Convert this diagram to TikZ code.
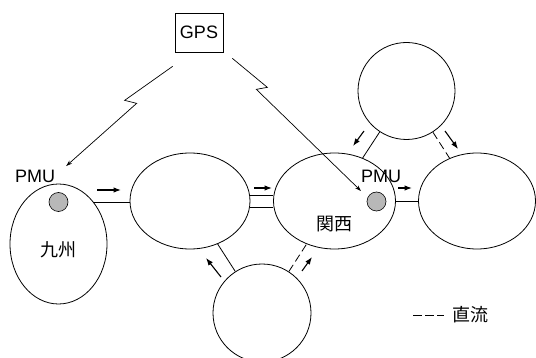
\documentclass[tikz,border=0pt]{standalone}
\usepackage{fontspec}
\setmainfont{Liberation Sans}
\newfontfamily\jp{Noto Sans CJK JP}
\usetikzlibrary{shapes.geometric,arrows.meta}
\tikzset{
  area/.style={draw,ellipse,inner sep=0pt,line width=0.8pt},
  pmudot/.style={draw,circle,fill=black!28,minimum size=19pt,inner sep=0pt,line width=0.6pt},
  lbl/.style={inner sep=0pt,font=\fontsize{18}{21}\selectfont},
  tie/.style={line width=0.8pt},
  dc/.style={tie,dash pattern=on 8pt off 4pt},
  flow/.style={line width=1.1pt,-{Latex[length=7.5pt,width=5.5pt]}},
  gpslink/.style={line width=0.7pt,-{Stealth[length=6pt,width=4pt]}}
}
\begin{document}
\begin{tikzpicture}[x=1pt,y=-1pt]
\useasboundingbox (0,0) rectangle (536,358);
% areas
\node[area,minimum width=97pt,minimum height=120pt] (kyushu) at (58.5,244) {};
\node[area,minimum width=120pt,minimum height=96pt] (chugoku) at (190,201) {};
\node[area,minimum width=122pt,minimum height=96pt] (kansai) at (334.5,201) {};
\node[area,minimum width=117pt,minimum height=96pt] (chubu) at (477,201) {};
\node[area,minimum width=97pt,minimum height=97pt] (hokuriku) at (406.5,91) {};
\node[area,minimum width=98pt,minimum height=98pt] (shikoku) at (262,313) {};
\node[lbl] at (58.5,250) {\jp 九州};
\node[lbl] at (334,224.5) {\jp 関西};
% PMU
\node[pmudot] (dotA) at (58.5,202) {};
\node[pmudot] (dotB) at (376.5,201.5) {};
\node[lbl] (pmuA) at (35,176.5) {PMU};
\node[lbl] (pmuB) at (381,176.5) {PMU};
% GPS
\node[draw,lbl,minimum width=48pt,minimum height=39pt,line width=0.7pt] (gps) at (199,32.5) {GPS};
\draw[gpslink] ([shift={(-2,14)}]gps.south west) -- ++(-48,34) -- ++(12,3)
  -- ([shift={(11,-4)}]pmuA.north east);
\draw[gpslink] ([shift={(9,6)}]gps.south east) -- ++(35,29) -- ++(-11,2)
  -- ([shift={(-15.5,-10.5)}]dotB.center);
% ties
\draw[tie] (kyushu.50) -- (kyushu.50 -| chugoku.west);
\draw[tie] ([yshift=6pt]chugoku.east) -- ([yshift=6pt]kansai.west);
\draw[tie] ([yshift=-6pt]chugoku.east) -- ([yshift=-6pt]kansai.west);
\draw[tie] (kansai.east) -- (chubu.west);
\draw[tie] (hokuriku) -- (kansai);
\draw[dc] (hokuriku) -- (chubu);
\draw[tie] (shikoku) -- (chugoku);
\draw[dc] (shikoku) -- (kansai);
% power flow
\foreach \a/\b in {{97,190}/{121,190},{254,188}/{272,188},{398,188}/{412,188},
  {364,131}/{353,146},{445,131}/{458,149},{221,277}/{206,258},{302,271}/{312,257}}
  \draw[flow] (\a) -- (\b);
% legend
\node[lbl] (legend) at (470.5,315) {\jp 直流};
\coordinate (legendline) at (413,315);
\draw[tie,dash pattern=on 9pt off 3pt] (legendline) -- ([xshift=-8pt]legend.west);
\end{tikzpicture}
\end{document}
